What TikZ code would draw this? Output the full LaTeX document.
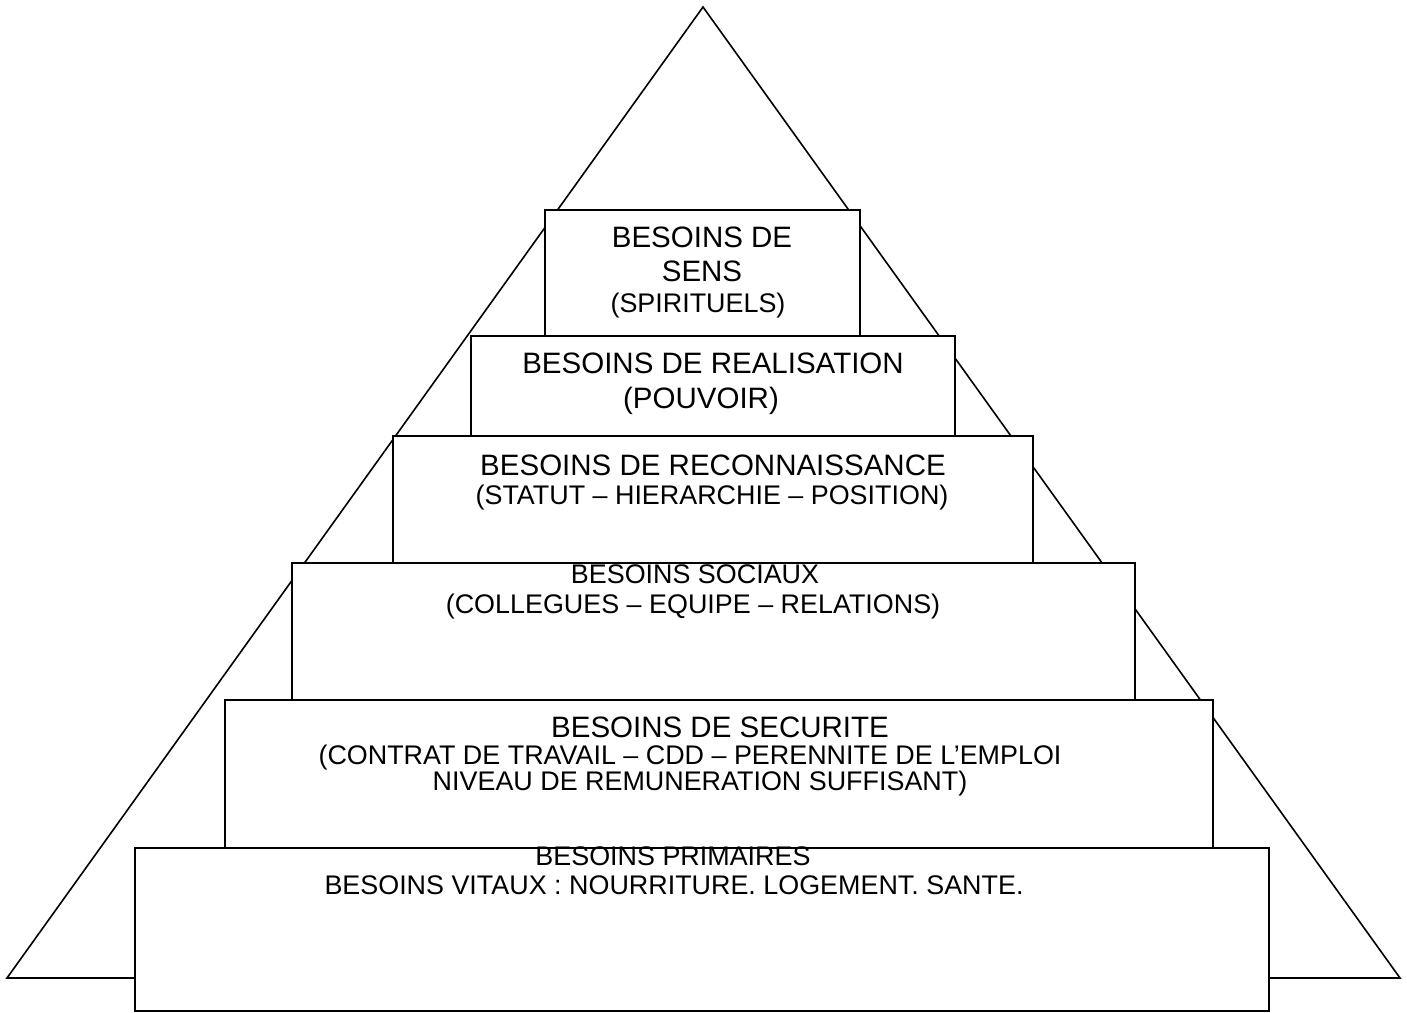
\documentclass[tikz,border=0pt]{standalone}
\usepackage{fontspec}
\setmainfont{Liberation Sans}
\usepackage{tikz}
\usetikzlibrary{positioning}

\tikzset{
	box/.style={draw,fill=white},
	big/.style={anchor=base,inner sep=0pt,font=\fontsize{29.5}{34}\selectfont},
	small/.style={anchor=base,inner sep=0pt,font=\fontsize{26.9}{31}\selectfont}
}

\begin{document}
\begin{tikzpicture}[x=1pt,y=-1pt,line width=1.6pt]
	\useasboundingbox (0,0) rectangle (1407,1012);
	\coordinate (A) at (703,7);
	\coordinate (B) at (7,978);
	\coordinate (C) at (1400,978);
	\draw (A) -- (B) -- (C) -- cycle;
	%
	%  LEVELS
	%
	\draw[box] (545,210) rectangle (860,336);
	\draw[box] (471,336) rectangle (955,436);
	\draw[box] (393,436) rectangle (1033,563);
	\draw[box] (292,563) rectangle (1135,700);
	\draw[box] (225,700) rectangle (1213,848);
	\draw[box] (135,848) rectangle (1269,1011);
	%
	%  TEXTS
	%
	\node[big] (S1) at (702,247) {BESOINS DE};
	\node[big] (S2) at (702,281) {SENS};
	\node[small] (S3) at (698,312) {(SPIRITUELS)};
	\node[big] (R1) at (713,373) {BESOINS DE REALISATION};
	\node[big] (R2) at (701,408) {(POUVOIR)};
	\node[big] (C1) at (713,475) {BESOINS DE RECONNAISSANCE};
	\node[small] (C2) at (712,504) {(STATUT – HIERARCHIE – POSITION)};
	\node[small] (O1) at (695,583) {BESOINS SOCIAUX};
	\node[small] (O2) at (693,613) {(COLLEGUES – EQUIPE – RELATIONS)};
	\node[big] (E1) at (720,737) {BESOINS DE SECURITE};
	\node[small] (E2) at (690,764) {(CONTRAT DE TRAVAIL – CDD – PERENNITE DE L’EMPLOI};
	\node[small] (E3) at (700,790) {NIVEAU DE REMUNERATION SUFFISANT)};
	\node[small] (P1) at (673,865) {BESOINS PRIMAIRES};
	\node[small] (P2) at (674,894) {BESOINS VITAUX : NOURRITURE. LOGEMENT. SANTE.};
\end{tikzpicture}
\end{document}
